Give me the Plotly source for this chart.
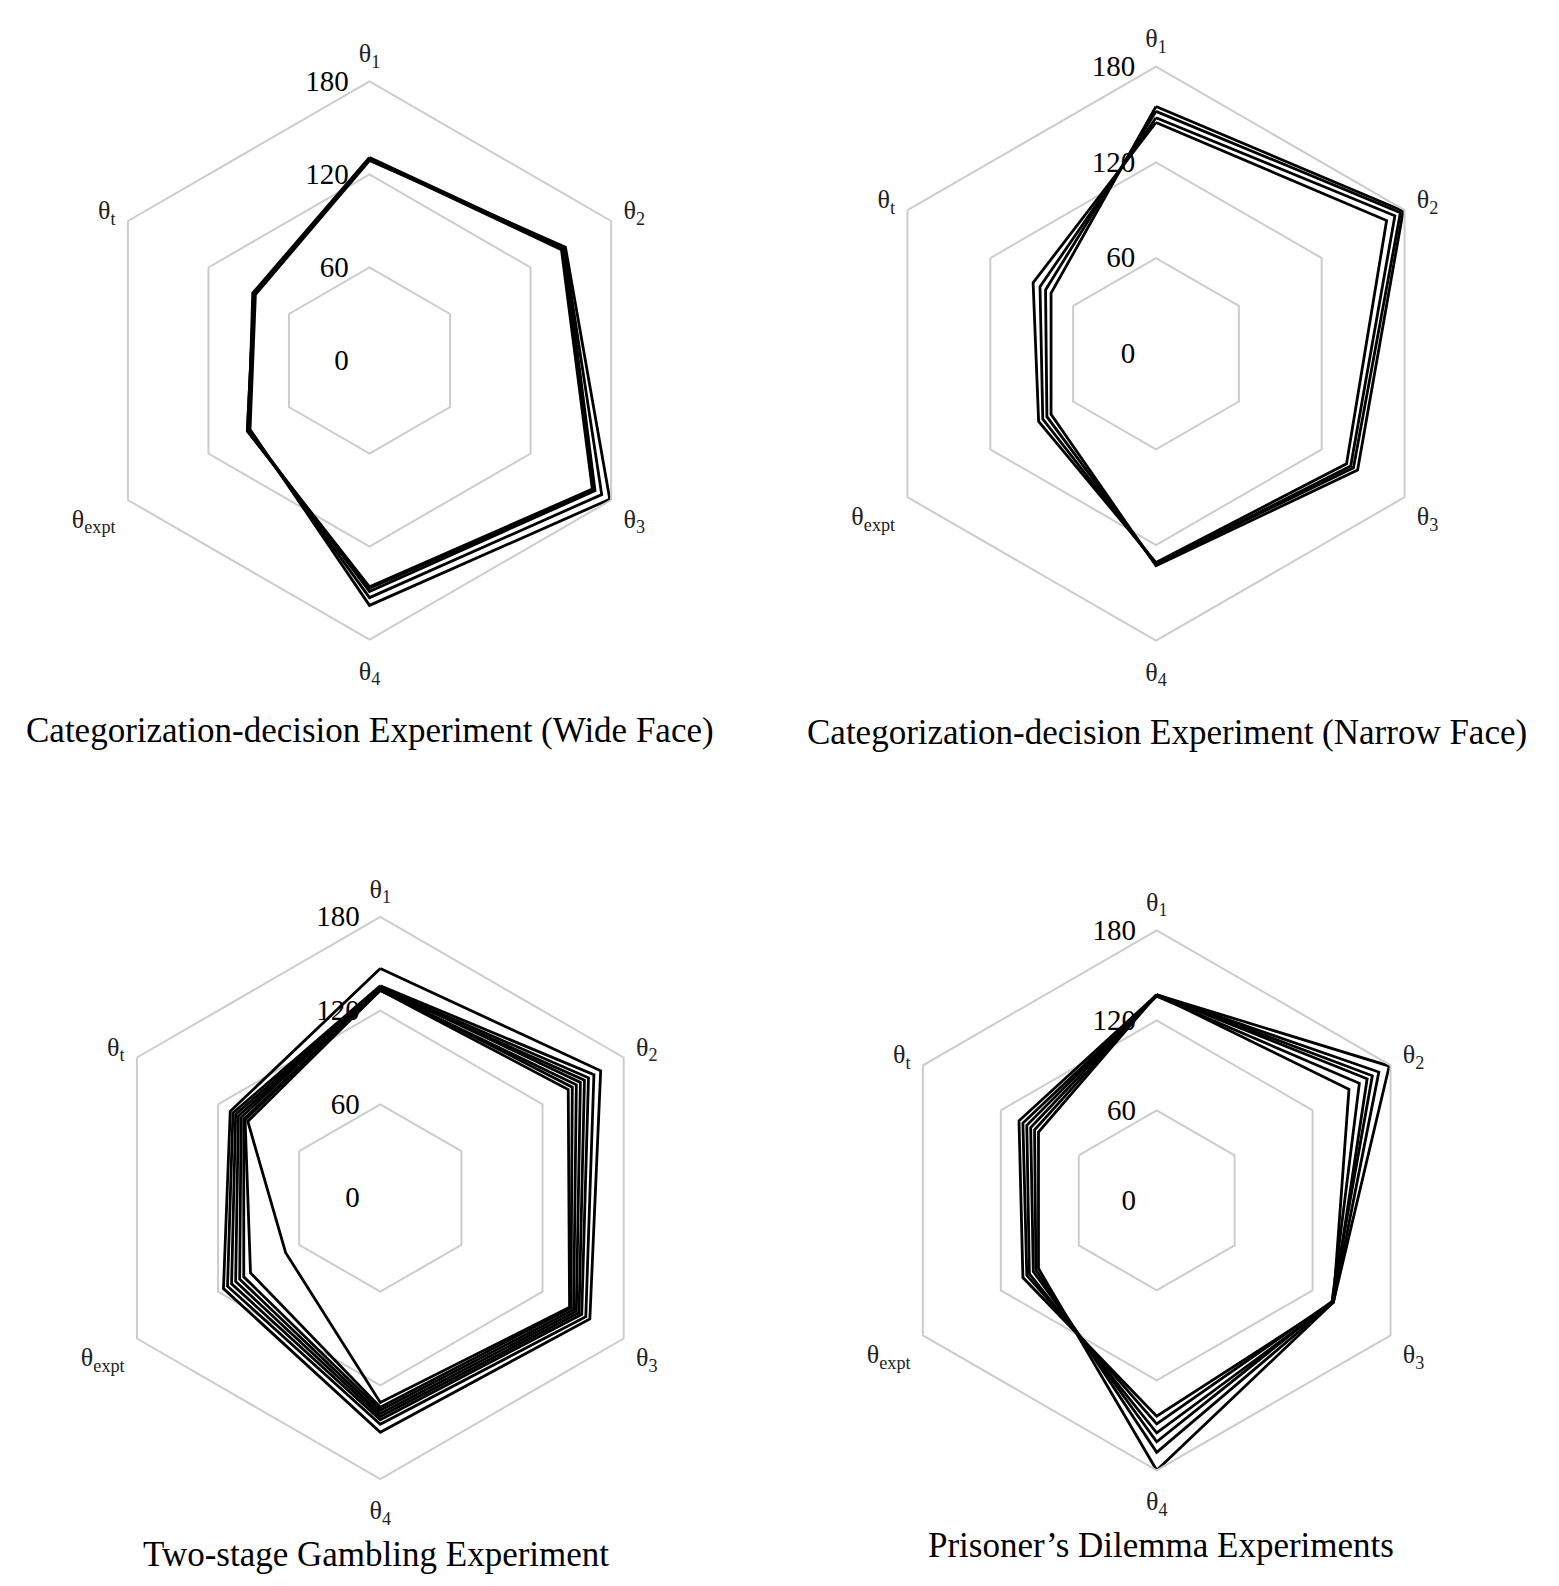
import plotly.graph_objects as go

W, H = 1559, 1586

# axis categories (clockwise from the top)
cats = ["θ<sub>1</sub>", "θ<sub>2</sub>", "θ<sub>3</sub>", "θ<sub>4</sub>",
        "θ<sub>expt</sub>", "θ<sub>t</sub>"]
r_ticks = [0, 60, 120, 180]

# each row: one fitted parameter set (θ1, θ2, θ3, θ4, θexpt, θt)
wide_face = [
    [130, 143, 166, 146, 91, 86],
    [130, 144, 167, 147, 91, 86],
    [131, 145, 168, 149, 90, 87],
    [130, 145, 173, 153, 90, 86],
    [129, 146, 179, 158, 89, 85],
]
narrow_face = [
    [155, 179, 146, 133, 76, 76],
    [152, 177, 143, 132, 79, 80],
    [148, 173, 141, 132, 82, 84],
    [145, 167, 138, 131, 85, 89],
]
gambling = [
    [147, 163, 155, 150, 116, 111],
    [136, 158, 152, 145, 113, 109],
    [135, 154, 149, 142, 110, 107],
    [134, 151, 147, 140, 107, 105],
    [135, 148, 145, 138, 104, 103],
    [133, 145, 143, 136, 101, 101],
    [134, 142, 141, 134, 96, 100],
    [133, 139, 140, 131, 70, 98],
]
prisoner = [
    [137, 179, 136, 180, 91, 91],
    [137, 171, 136, 168, 93, 94],
    [137, 166, 135, 161, 95, 97],
    [137, 162, 136, 155, 98, 100],
    [136, 156, 135, 149, 100, 103],
    [137, 148, 136, 144, 103, 106],
]

titles = [
    "Categorization-decision Experiment (Wide Face)",
    "Categorization-decision Experiment (Narrow Face)",
    "Two-stage Gambling Experiment",
    "Prisoner\u2019s Dilemma Experiments",
]

# panel geometry in pixels: centre x, centre y, radius, title x, title y
panels = [
    (wide_face, 369.5, 360.5, 279, 370, 730),
    (narrow_face, 1156, 353.7, 287, 1167, 732),
    (gambling, 380.3, 1198, 281, 376, 1554),
    (prisoner, 1156.7, 1200.3, 270, 1161, 1545),
]

FONT = "Liberation Serif, Times New Roman, serif"
GRID = "#cccccc"
CLEAR = "rgba(0,0,0,0)"

fig = go.Figure()
layout = dict(width=W, height=H, margin=dict(l=0, r=0, t=0, b=0),
              paper_bgcolor="white", showlegend=False, annotations=[])

for i, (data, cx, cy, R, tx, ty) in enumerate(panels):
    name = "polar" if i == 0 else f"polar{i + 1}"
    for row in data:
        fig.add_trace(go.Scatterpolar(
            r=row + row[:1], theta=cats + cats[:1],
            mode="lines", line=dict(color="black", width=2.8),
            subplot=name, hoverinfo="skip"))
    layout[name] = dict(
        domain=dict(x=[(cx - R) / W, (cx + R) / W],
                    y=[1 - (cy + R) / H, 1 - (cy - R) / H]),
        gridshape="linear",
        bgcolor="white",
        radialaxis=dict(range=[0, 180], tickvals=r_ticks, angle=90,
                        tickangle=90, side="counterclockwise",
                        showline=False, ticks="outside", ticklen=10,
                        tickcolor=CLEAR,
                        gridcolor=GRID, gridwidth=2,
                        tickfont=dict(family=FONT, size=29, color="black")),
        angularaxis=dict(direction="clockwise", rotation=90, type="category",
                         categoryarray=cats, showgrid=False, showline=True,
                         linecolor=GRID, linewidth=2,
                         ticks="outside", ticklen=8, tickcolor=CLEAR,
                         tickfont=dict(family=FONT, size=26, color="#222222")),
    )
    layout["annotations"].append(dict(
        text=titles[i], x=tx / W, y=1 - ty / H, xref="paper", yref="paper",
        xanchor="center", yanchor="middle", showarrow=False,
        font=dict(family=FONT, size=35, color="black")))

fig.update_layout(**layout)
# the page's default body margin would push the fixed-size figure off by 8px
fig.write_html("out.html", config={"displayModeBar": False},
               post_script="document.body.style.margin='0';")
